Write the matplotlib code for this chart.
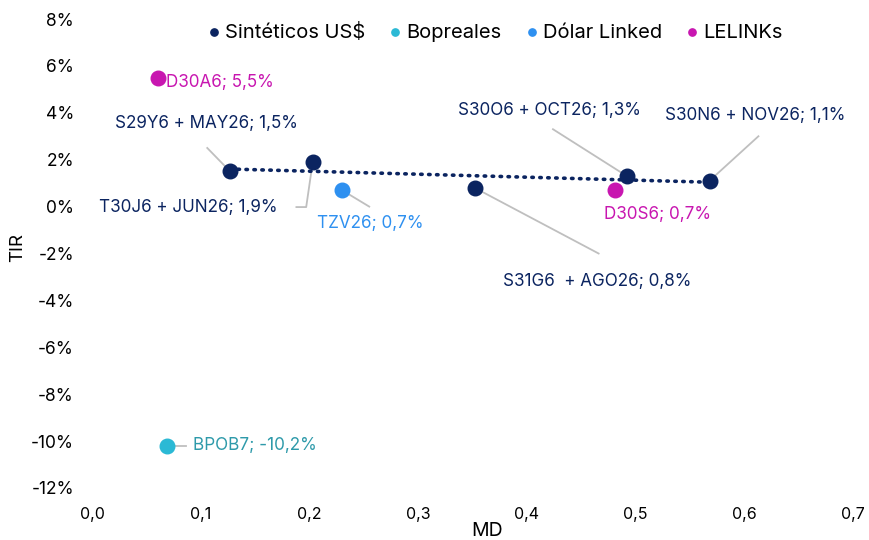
import matplotlib.pyplot as plt
from matplotlib.ticker import FuncFormatter
import numpy as np

plt.rcParams['font.family'] = ['Inter', 'DejaVu Sans']

# datos: MD (duración modificada) y TIR (%)
sint_names = ['S29Y6 + MAY26', 'T30J6 + JUN26', 'S31G6  + AGO26', 'S30O6 + OCT26', 'S30N6 + NOV26']
sint_md = [0.127, 0.203, 0.352, 0.492, 0.568]
sint_tir = [1.5, 1.9, 0.8, 1.3, 1.1]

bop_names = ['BPOB7']
bop_md = [0.069]
bop_tir = [-10.2]

dl_names = ['TZV26']
dl_md = [0.230]
dl_tir = [0.7]

lel_names = ['D30A6', 'D30S6']
lel_md = [0.061, 0.481]
lel_tir = [5.5, 0.7]

c_sint = '#0B2460'
c_bop = '#2BB9D5'
c_bop_txt = '#2E9AAA'
c_dl = '#2E90F0'
c_lel = '#C816B0'
c_lead = '#BFBFBF'

fig = plt.figure(figsize=(8.69, 5.40), dpi=100)
ax = fig.add_axes([0.1059, 0.0963, 0.8757, 0.8685])

ax.scatter(sint_md, sint_tir, s=110, color=c_sint, zorder=4, label='Sintéticos US$')
ax.scatter(bop_md, bop_tir, s=110, color=c_bop, zorder=4, label='Bopreales')
ax.scatter(dl_md, dl_tir, s=110, color=c_dl, zorder=4, label='Dólar Linked')
ax.scatter(lel_md, lel_tir, s=110, color=c_lel, zorder=4, label='LELINKs')

# línea de tendencia lineal de los sintéticos
coef = np.polyfit(sint_md, sint_tir, 1)
xt = np.linspace(min(sint_md), max(sint_md), 100)
ax.plot(xt, np.polyval(coef, xt), color=c_sint, lw=2.6, ls=(0, (0.4, 1.8)),
        dash_capstyle='round', zorder=3)

def fmt(v):
    return f'{v:.1f}'.replace('.', ',') + '%'

fs = 12.3

def label(name, x, y, color, tx, ty, ha='left', leader=None):
    ax.text(tx, ty, f'{name}; {fmt(y)}', color=color, fontsize=fs, ha=ha, va='center', zorder=5)
    if leader is not None:
        lx, ly = zip(*leader)
        ax.plot(lx, ly, color=c_lead, lw=1.3, zorder=2)

# etiquetas (coordenadas de datos)
label(lel_names[0], lel_md[0], lel_tir[0], c_lel, 0.068, 5.3)
label(sint_names[0], sint_md[0], sint_tir[0], c_sint, 0.105, 3.55, ha='center',
      leader=[(0.106, 2.5), (sint_md[0], sint_tir[0])])
label(sint_names[1], sint_md[1], sint_tir[1], c_sint, 0.006, -0.05,
      leader=[(0.188, -0.02), (0.197, -0.02), (sint_md[1], sint_tir[1])])
label(dl_names[0], dl_md[0], dl_tir[0], c_dl, 0.207, -0.7,
      leader=[(dl_md[0], dl_tir[0]), (0.255, 0.0)])
label(sint_names[3], sint_md[3], sint_tir[3], c_sint, 0.337, 4.1,
      leader=[(0.424, 3.3), (sint_md[3], sint_tir[3])])
label(sint_names[4], sint_md[4], sint_tir[4], c_sint, 0.527, 3.9,
      leader=[(0.613, 3.0), (sint_md[4], sint_tir[4])])
label(lel_names[1], lel_md[1], lel_tir[1], c_lel, 0.471, -0.35)
label(sint_names[2], sint_md[2], sint_tir[2], c_sint, 0.378, -3.2,
      leader=[(sint_md[2], sint_tir[2]), (0.466, -2.0)])
label(bop_names[0], bop_md[0], bop_tir[0], c_bop_txt, 0.093, -10.2,
      leader=[(bop_md[0], bop_tir[0]), (0.086, -10.2)])

ax.set_xlim(0, 0.7)
ax.set_ylim(-12, 8)
ax.set_xticks(np.arange(0, 0.71, 0.1))
ax.set_yticks(np.arange(-12, 9, 2))
ax.xaxis.set_major_formatter(FuncFormatter(lambda v, p: f'{v:.1f}'.replace('.', ',')))
ax.yaxis.set_major_formatter(FuncFormatter(lambda v, p: f'{v:.0f}%'))
ax.tick_params(length=0, colors='#000000')
ax.tick_params(axis='x', labelsize=11.5, pad=14)
ax.tick_params(axis='y', labelsize=12.5, pad=13)
for s in ax.spines.values():
    s.set_visible(False)

ax.set_xlabel('MD', fontsize=14)
ax.xaxis.set_label_coords(0.519, -0.073)
ax.set_ylabel('TIR', fontsize=13.5)
ax.yaxis.set_label_coords(-0.087, 0.512)

ax.legend(loc='center', bbox_to_anchor=(0.527, 0.972), ncol=4, frameon=False,
          fontsize=14.5, markerscale=0.5, handletextpad=0.05, columnspacing=1.0,
          handlelength=1.0)

fig.savefig('out.png', dpi=100)
plt.close(fig)
